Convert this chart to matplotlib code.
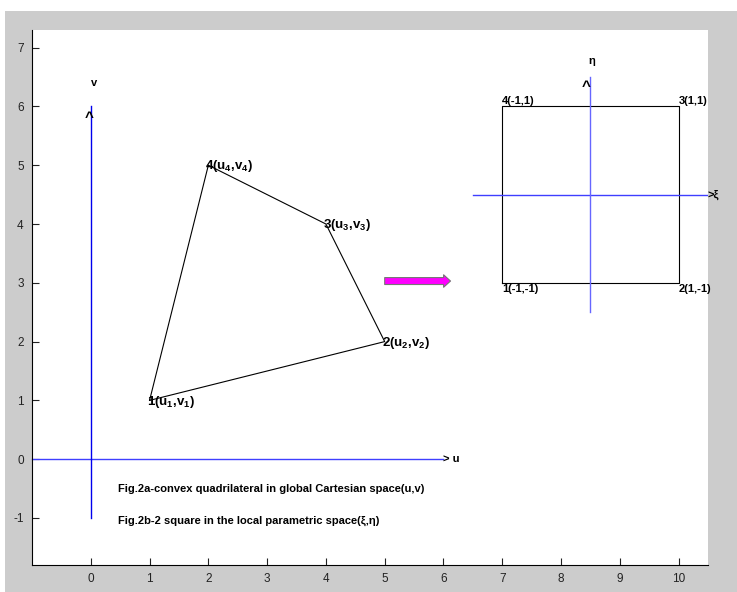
import matplotlib.pyplot as plt
from matplotlib.patches import Rectangle

# quadrilateral in (u,v)
quad_u = [1, 5, 4, 2]
quad_v = [1, 2, 4, 5]
quad_labels = [r'1($\mathbf{u_1}$,$\mathbf{v_1}$)', r'2($\mathbf{u_2}$,$\mathbf{v_2}$)',
               r'3($\mathbf{u_3}$,$\mathbf{v_3}$)', r'4($\mathbf{u_4}$,$\mathbf{v_4}$)']

# reference square in (xi,eta), drawn offset at centre (8.5,4.5)
sq_x = [7, 10, 10, 7]
sq_y = [3, 3, 6, 6]
sq_labels = ['1(-1,-1)', '2(1,-1)', '3(1,1)', '4(-1,1)']
sq_label_y = [2.9, 2.9, 6.1, 6.1]

# global axes lines
u_axis_x = [-1, 6]
v_axis_y = [-1, 6]
# local axes lines
xi_axis_x = [6.5, 10.5]
eta_axis_y = [2.5, 6.5]
centre = (8.5, 4.5)

arrow_start = (5, 3.03)
arrow_end = (6.12, 3.03)

captions = ['Fig.2a-convex quadrilateral in global Cartesian space(u,v)',
            'Fig.2b-2 square in the local parametric space(\u03be,\u03b7)']
caption_y = [-0.5, -1.05]

xticks = list(range(0, 11))
yticks = list(range(-1, 8))

plt.rcParams['font.family'] = ['Liberation Sans', 'DejaVu Sans']
plt.rcParams['axes.unicode_minus'] = False
plt.rcParams['mathtext.fontset'] = 'custom'
plt.rcParams['mathtext.bf'] = 'Liberation Sans:bold'
plt.rcParams['mathtext.rm'] = 'Liberation Sans'

fig = plt.figure(figsize=(7.37, 5.92), dpi=100, facecolor='white')
fig.patches.append(Rectangle((5 / 737, 0), 1, 581 / 592, transform=fig.transFigure,
                             facecolor='#cccccc', edgecolor='none', zorder=-10))
ax = fig.add_axes([32 / 737, 27 / 592, 676 / 737, 535 / 592])
ax.set_facecolor('white')

ax.set_xlim(-1, 10.5)
ax.set_ylim(-1.8, 7.3)
ax.set_xticks(xticks)
ax.set_yticks(yticks)
ax.tick_params(direction='in', length=5, width=0.8, labelsize=8.5, colors='#222222',
               pad=6)
for s in ['top', 'right']:
    ax.spines[s].set_visible(False)
for s in ['left', 'bottom']:
    ax.spines[s].set_linewidth(0.8)

bold = dict(fontsize=8, fontweight='bold', color='black')

# global axes
ax.plot(u_axis_x, [0, 0], color='#3f3fff', lw=1, clip_on=False)
ax.plot([0, 0], v_axis_y, color='#0000ee', lw=1)
ax.text(u_axis_x[1], 0, '> u', ha='left', va='center', **bold)
ax.text(-0.03, v_axis_y[1] - 0.2, '^', ha='center', va='center', fontsize=11,
        fontweight='bold')
ax.text(0.05, 6.4, 'v', ha='center', va='center', **bold)

# quadrilateral
ax.plot(quad_u + quad_u[:1], quad_v + quad_v[:1], color='black', lw=0.8)
for x, y, lab in zip(quad_u, quad_v, quad_labels):
    ax.text(x - 0.05, y - 0.02, lab, ha='left', va='center', fontsize=9.5,
            fontweight='bold', color='black')

# mapping arrow
ax.annotate('', xy=arrow_end, xytext=arrow_start,
            arrowprops=dict(arrowstyle='simple,head_width=0.9,head_length=0.5,tail_width=0.5',
                            fc='#ff00ff', ec='#777777', lw=0.8, shrinkA=0, shrinkB=0))

# square
ax.plot(sq_x + sq_x[:1], sq_y + sq_y[:1], color='black', lw=0.8)
for x, y, lab in zip(sq_x, sq_label_y, sq_labels):
    ax.text(x, y, lab, ha='left', va='center', **bold)

# local axes
ax.plot(xi_axis_x, [centre[1], centre[1]], color='#3f3fff', lw=1)
ax.plot([centre[0], centre[0]], eta_axis_y, color='#6666ff', lw=1)
ax.text(xi_axis_x[1], centre[1], '>\u03be', ha='left', va='center', clip_on=False, **bold)
ax.text(centre[0] - 0.07, 6.33, '^', ha='center', va='center', fontsize=11,
        fontweight='bold')
ax.text(centre[0] + 0.03, 6.78, '\u03b7', ha='center', va='center', **bold)

for y, cap in zip(caption_y, captions):
    ax.text(0.47, y, cap, ha='left', va='center', **bold)

fig.savefig('out.png', dpi=100, facecolor=fig.get_facecolor())
